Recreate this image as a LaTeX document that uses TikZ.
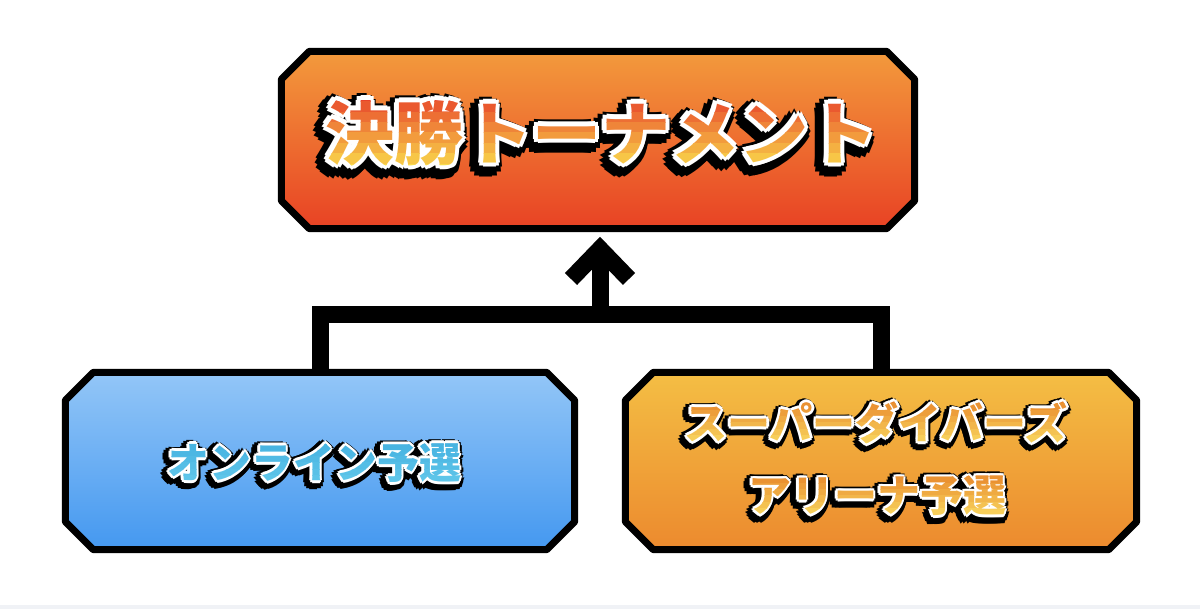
\documentclass[tikz,border=0pt]{standalone}
\usepackage{fontspec}
\usepackage{tikz}
\usetikzlibrary{calc}
\newfontfamily\jpfont{Noto Sans CJK JP}[BoldFont=* Black]

\definecolor{finaltop}{HTML}{F39A3C}
\definecolor{finalbot}{HTML}{E84224}
\definecolor{finaltxttop}{HTML}{E8432A}
\definecolor{finaltxtbot}{HTML}{F9DC4C}
\definecolor{onlinetop}{HTML}{93C6F7}
\definecolor{onlinebot}{HTML}{4498F0}
\definecolor{onlinetxttop}{HTML}{44B0E0}
\definecolor{onlinetxtbot}{HTML}{62C8EA}
\definecolor{arenatop}{HTML}{F4BE44}
\definecolor{arenabot}{HTML}{EC8A2E}
\definecolor{arenatxttop}{HTML}{E8862A}
\definecolor{arenatxtbot}{HTML}{F9DA62}
\definecolor{floorgrey}{HTML}{F0F2F6}

% box with cut corners round a named node
\newcommand{\cutbox}[3]{%
  \draw[boxline, top color=#2, bottom color=#3]
    ([xshift=28pt]#1.north west) -- ([xshift=-28pt]#1.north east)
    -- ([yshift=-28pt]#1.north east) -- ([yshift=28pt]#1.south east)
    -- ([xshift=-28pt]#1.south east) -- ([xshift=28pt]#1.south west)
    -- ([yshift=28pt]#1.south west) -- ([yshift=-28pt]#1.north west)
    -- cycle;
}

% heavy title text: black shadow, white rim, graded fill
\newcommand{\popword}[5]{%
  \pgfmathsetmacro\rimw{0.065*#3}
  \pgfmathsetmacro\rimb{0.15*#3}
  \pgfmathsetmacro\offx{-0.05*#3}
  \pgfmathsetmacro\offy{0.06*#3}
  \foreach \a in {0,30,...,330}
    \node[popfont=#3, text=black] at ($(#1)+(\a:\rimb)+(\offx,\offy)$) {#2};
  \foreach \a in {0,45,...,315}
    \node[popfont=#3, text=white] at ($(#1)+(\a:\rimw)$) {#2};
  \foreach \i in {0,...,7} {
    \pgfmathsetmacro\mixp{100-\i*100/7}
    \begin{scope}
      \clip ($(#1)+(-400,{-0.6*#3+\i*0.15*#3})$) rectangle ($(#1)+(400,{-0.6*#3+(\i+1)*0.15*#3})$);
      \node[popfont=#3, text=#4!\mixp!#5] at (#1) {#2};
    \end{scope}
  }
}

\begin{document}
\begin{tikzpicture}[x=1pt, y=-1pt,
    boxarea/.style={draw=none, inner sep=0pt, minimum width=#1, minimum height=177pt},
    boxline/.style={draw=black, line width=7pt, line join=round},
    link/.style={draw=black, line width=17pt},
    popfont/.style={font=\jpfont\bfseries\fontsize{#1pt}{#1pt}\selectfont, inner sep=0pt}
  ]
  \useasboundingbox (0,0) rectangle (1200,609);
  \fill[floorgrey] (0,605) rectangle (1200,609);

  % boxes
  \node[boxarea=633pt] (final) at (598,140) {};
  \node[boxarea=509pt] (online) at (320,461) {};
  \node[boxarea=511pt] (arena) at (881,461) {};

  % connectors
  \coordinate (joint) at (600,315);
  \coordinate (tip) at (600,249);
  \coordinate (wingl) at (571,279);
  \coordinate (wingr) at (629,279);
  \draw[link, line join=miter] (online.north) |- (joint) -| (arena.north);
  \draw[link] (joint) -- (tip);
  \draw[link, line join=miter] (wingl) -- (tip) -- (wingr);

  \cutbox{final}{finaltop}{finalbot}
  \cutbox{online}{onlinetop}{onlinebot}
  \cutbox{arena}{arenatop}{arenabot}

  % titles
  \coordinate (finaltxt) at (601,133);
  \coordinate (onlinetxt) at (314,463);
  \coordinate (arenatxta) at (876,423);
  \coordinate (arenatxtb) at (877,496);
  \popword{finaltxt}{決勝トーナメント}{69}{finaltxttop}{finaltxtbot}
  \popword{onlinetxt}{オンライン予選}{42}{onlinetxttop}{onlinetxtbot}
  \popword{arenatxta}{スーパーダイバーズ}{43}{arenatxttop}{arenatxtbot}
  \popword{arenatxtb}{アリーナ予選}{43}{arenatxttop}{arenatxtbot}
\end{tikzpicture}
\end{document}
